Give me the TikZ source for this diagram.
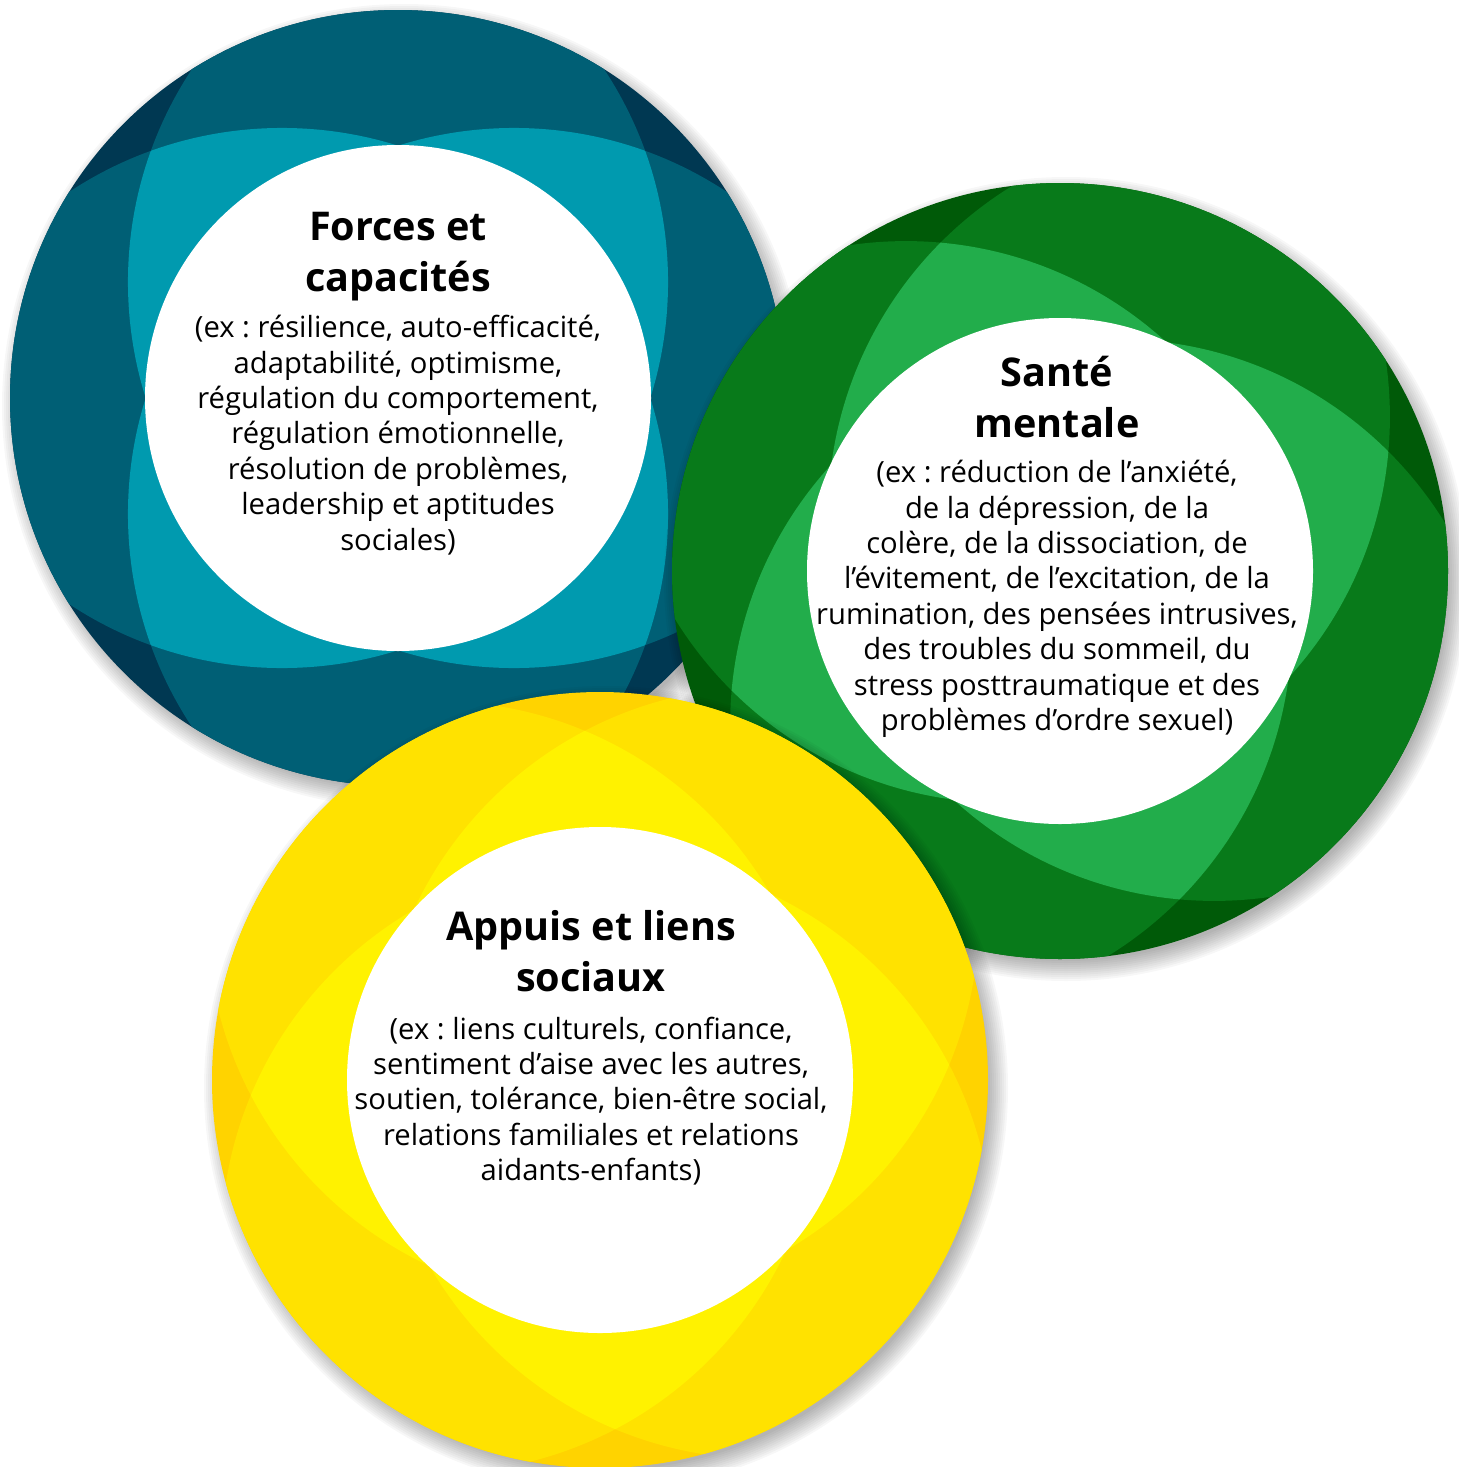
\documentclass[tikz,border=0pt]{standalone}
\usepackage{fontspec}
\setmainfont{Open Sans}
\frenchspacing
\definecolor{bDark}{HTML}{003852}
\definecolor{bMed}{HTML}{005F75}
\definecolor{bLight}{HTML}{009AAF}
\definecolor{gDark}{HTML}{005A08}
\definecolor{gMed}{HTML}{087A1A}
\definecolor{gLight}{HTML}{22AD4B}
\definecolor{yDark}{HTML}{FFD300}
\definecolor{yMed}{HTML}{FFE200}
\definecolor{yLight}{HTML}{FFF200}
\newcommand\patdisc[6]{%
  \begin{scope}[shift={(#1,#2)}]
    \foreach \k in {0,...,10}{%
      \pgfmathsetmacro\rr{(382+2*\k)*0.5}
      \fill[black,opacity=0.03] (6,-8) circle[radius=\rr pt];}
    \fill[#4] (0,0) circle[radius=194pt];
    \coordinate (q1) at (45+#3:164);
    \coordinate (q2) at (135+#3:164);
    \coordinate (q3) at (225+#3:164);
    \coordinate (q4) at (315+#3:164);
    \begin{scope}
      \clip (0,0) circle[radius=194pt];
      \foreach \i/\j in {1/2,1/3,1/4,2/3,2/4,3/4}{%
        \begin{scope}
          \clip (q\i) circle[radius=193pt];
          \fill[#5] (q\j) circle[radius=193pt];
        \end{scope}}
      \foreach \i/\j/\m in {1/2/3,1/2/4,1/3/4,2/3/4}{%
        \begin{scope}
          \clip (q\i) circle[radius=193pt];
          \clip (q\j) circle[radius=193pt];
          \fill[#6] (q\m) circle[radius=193pt];
        \end{scope}}
    \end{scope}
    \fill[white] (0,0) circle[radius=126.5pt];
  \end{scope}}
\begin{document}
\begin{tikzpicture}[x=0.5pt,y=0.5pt,
  title/.style={align=center,inner sep=0pt,font=\fontsize{19.8}{25.5}\selectfont\bfseries},
  body/.style={align=center,inner sep=0pt,font=\fontsize{14.6}{17.7}\selectfont}]
\useasboundingbox (0,0) rectangle (1458,-1467);
\patdisc{398}{-398}{0}{bDark}{bMed}{bLight}
\patdisc{1060}{-571}{-25}{gDark}{gMed}{gLight}
\patdisc{600}{-1080}{-42.5}{yDark}{yMed}{yLight}

\node[title] (t1) at (398,-257) {Forces et\\capacités};
\node[body] (b1) at (398,-435) {(ex : résilience, auto-efficacité,\\adaptabilité, optimisme,\\régulation du comportement,\\régulation émotionnelle,\\résolution de problèmes,\\leadership et aptitudes\\sociales)};

\node[title] (t2) at (1057,-397) {Santé\\mentale};
\node[body] (b2) at (1057,-599) {(ex : réduction de l’anxiété,\\de la dépression, de la\\colère, de la dissociation, de\\l’évitement, de l’excitation, de la\\rumination, des pensées intrusives,\\des troubles du sommeil, du\\stress posttraumatique et des\\problèmes d’ordre sexuel)};

\node[title] (t3) at (591,-951) {Appuis et liens\\sociaux};
\node[body] (b3) at (591,-1101) {(ex : liens culturels, confiance,\\sentiment d’aise avec les autres,\\soutien, tolérance, bien-être social,\\relations familiales et relations\\aidants-enfants)};
\end{tikzpicture}
\end{document}
